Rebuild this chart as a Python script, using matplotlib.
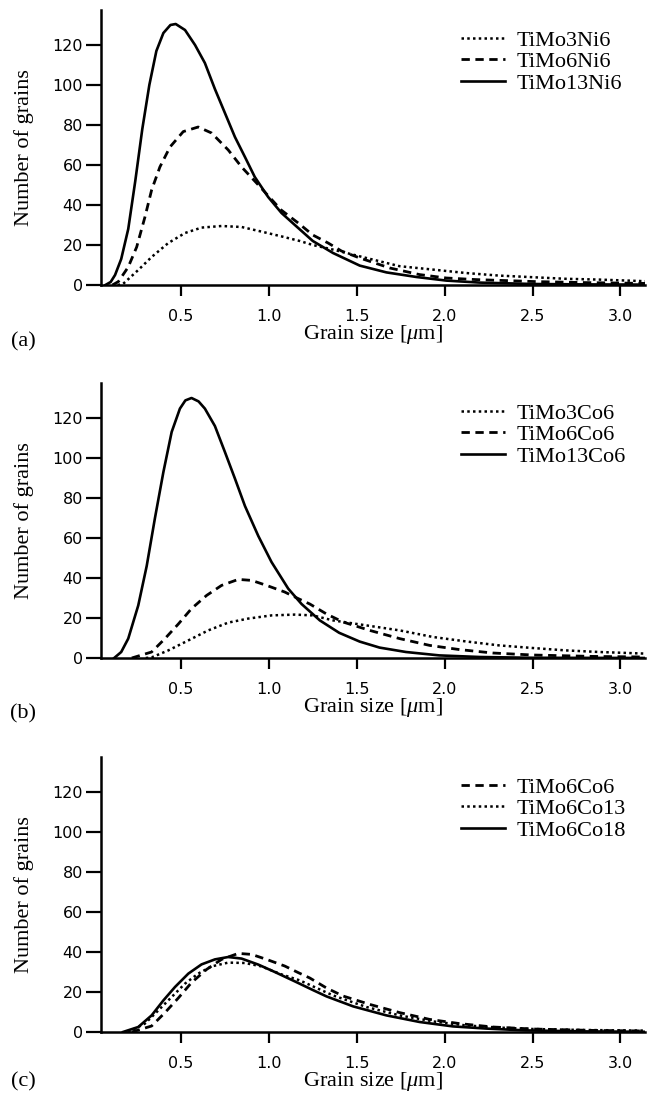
import matplotlib
matplotlib.use("Agg")
import matplotlib.pyplot as plt

# ---------------- data ----------------
# Panel (a)
a_dot_x = [0.14, 0.17, 0.257, 0.333, 0.428, 0.523, 0.617, 0.731, 0.845, 0.958, 1.072, 1.176, 1.25,
           1.365, 1.555, 1.744, 1.934, 2.12, 2.31, 2.5, 2.69, 2.88, 3.14]
a_dot_y = [0, 0.5, 7.5, 14, 21, 26, 28.7, 29.5, 29, 26.7, 24.3, 22, 20,
           17.7, 13.5, 9.4, 7.7, 6, 4.7, 3.9, 3.1, 2.7, 1.9]
a_dash_x = [0.11, 0.144, 0.2, 0.248, 0.295, 0.333, 0.38, 0.4375, 0.513, 0.598, 0.674, 0.769, 0.845,
            0.93, 1.07, 1.167, 1.25, 1.337, 1.413, 1.517, 1.593, 1.688, 1.858, 2.01, 2.18, 2.35,
            2.52, 2.8, 3.14]
a_dash_y = [0, 1.7, 9, 19, 34, 47.5, 59, 69, 76.7, 79, 76, 67.5, 59,
            51, 37.5, 31, 25, 21, 17, 13.5, 11.3, 8.5, 5.2, 3.5, 2.7, 2.2,
            1.7, 1.2, 0.8]
a_sol_x = [0.07, 0.1, 0.125, 0.16, 0.2, 0.24, 0.28, 0.32, 0.36, 0.40, 0.44, 0.47, 0.523, 0.58,
           0.636, 0.693, 0.75, 0.807, 0.864, 0.92, 0.996, 1.072, 1.148, 1.25, 1.365, 1.517, 1.669,
           1.84, 2.01, 2.2, 2.5, 2.8, 3.14]
a_sol_y = [0, 1.5, 5, 13, 28, 52, 78, 100, 117, 126, 130, 130.5, 127.5, 120,
           111, 98, 86, 74, 64, 54, 44, 36, 30, 22, 16, 9.7, 6.3,
           4, 2.2, 1.2, 0.5, 0.3, 0.2]

# Panel (b)
b_dot_x = [0.3, 0.333, 0.428, 0.542, 0.655, 0.769, 0.882, 1.015, 1.148, 1.25, 1.365, 1.555, 1.744,
           1.934, 2.12, 2.31, 2.5, 2.69, 2.88, 3.14]
b_dot_y = [0, 0.3, 3.8, 8.8, 13.8, 17.7, 19.7, 21.3, 21.7, 21.3, 18.8, 16.3, 13.8,
           10.5, 8.3, 6.3, 5, 3.8, 3, 2.2]
co6_x = [0.22, 0.333, 0.409, 0.485, 0.56, 0.646, 0.731, 0.826, 0.902, 0.987, 1.09, 1.167, 1.233,
         1.328, 1.422, 1.574, 1.744, 1.915, 2.085, 2.274, 2.5, 2.84, 3.14]
co6_y = [0, 3, 9.7, 17, 24.7, 31.3, 36.3, 39.3, 38.8, 36.3, 33, 29.7, 27,
         22, 18, 13.8, 9.7, 6.3, 4.2, 2.5, 1.5, 0.8, 0.5]
b_sol_x = [0.12, 0.16, 0.2, 0.257, 0.305, 0.352, 0.4, 0.447, 0.494, 0.525, 0.56, 0.6, 0.636, 0.693,
           0.75, 0.807, 0.864, 0.94, 1.015, 1.11, 1.186, 1.29, 1.4, 1.517, 1.63, 1.78, 1.97, 2.2,
           2.5, 3.14]
b_sol_y = [0, 3, 9.7, 26.3, 46, 70, 93, 113, 124.7, 128.8, 130, 128.3, 124.7, 116,
           103, 89.7, 76, 61, 48, 34.7, 27, 18.8, 12.6, 8.2, 5.2, 3, 1.3, 0.5,
           0.1, 0]

# Panel (c)
c_dot_x = [0.2, 0.295, 0.371, 0.447, 0.523, 0.598, 0.674, 0.769, 0.864, 0.958, 1.072, 1.176,
           1.365, 1.555, 1.744, 1.934, 2.12, 2.31, 2.5, 2.79, 3.14]
c_dot_y = [0, 4.2, 10.8, 17.5, 24.2, 29.2, 32.8, 34.7, 34.5, 32.8, 28.8, 25.8,
           18.3, 12.5, 8.3, 5.3, 3.3, 2.2, 1.5, 1, 0.7]
c_sol_x = [0.17, 0.257, 0.333, 0.4, 0.466, 0.542, 0.617, 0.693, 0.769, 0.845, 0.94, 1.034,
           1.148, 1.25, 1.328, 1.48, 1.669, 1.858, 2.047, 2.24, 2.46, 2.8, 3.14]
c_sol_y = [0, 2.5, 8.3, 15.8, 22.5, 29.2, 33.8, 36.3, 37.5, 36.7, 33.7, 30,
           25.3, 21, 17.8, 12.8, 8.3, 5, 2.8, 1.7, 0.8, 0.3, 0.1]

x_ticks = [0.5, 1.0, 1.5, 2.0, 2.5, 3.0]
x_tick_labels = ["0.5", "1.0", "1.5", "2.0", "2.5", "3.0"]
y_ticks = [0, 20, 40, 60, 80, 100, 120]
panel_letters = ["(a)", "(b)", "(c)"]
x_label = r"Grain size [$\mu$m]"
y_label = "Number of grains"

# ---------------- styling ----------------
plt.rcParams["mathtext.fontset"] = "custom"
plt.rcParams["mathtext.rm"] = "Liberation Serif"
plt.rcParams["mathtext.it"] = "Liberation Serif:italic"

SERIF = "Liberation Serif"
SERIF_SIZE = 16
TICK_SIZE = 11.5

DOT = (0, (1, 1.3))
DASH = (0, (3, 2))
styles = {
    "dot": dict(color="black", lw=1.8, linestyle=DOT),
    "dash": dict(color="black", lw=2.0, linestyle=DASH),
    "solid": dict(color="black", lw=1.9, linestyle="-"),
}

panels = [
    [("dot", a_dot_x, a_dot_y, "TiMo3Ni6"),
     ("dash", a_dash_x, a_dash_y, "TiMo6Ni6"),
     ("solid", a_sol_x, a_sol_y, "TiMo13Ni6")],
    [("dot", b_dot_x, b_dot_y, "TiMo3Co6"),
     ("dash", co6_x, co6_y, "TiMo6Co6"),
     ("solid", b_sol_x, b_sol_y, "TiMo13Co6")],
    [("dash", co6_x, co6_y, "TiMo6Co6"),
     ("dot", c_dot_x, c_dot_y, "TiMo6Co13"),
     ("solid", c_sol_x, c_sol_y, "TiMo6Co18")],
]

W, H = 647, 1100
fig = plt.figure(figsize=(W / 100, H / 100), dpi=100)

# axes boxes in pixels: (left, top, right, bottom)
boxes = [(101, 10, 645, 285), (101, 383, 645, 658), (101, 757, 645, 1032)]
letter_y = [342, 714, 1082]

for i, (box, series) in enumerate(zip(boxes, panels)):
    l, t, r, b = box
    ax = fig.add_axes([l / W, 1 - b / H, (r - l) / W, (b - t) / H])
    for key, xs, ys, lab in series:
        ax.plot(xs, ys, label=lab, **styles[key])
    ax.set_xlim(0.045, 3.14)
    ax.set_ylim(0, 137.5)
    ax.set_xticks(x_ticks)
    ax.set_xticklabels(x_tick_labels)
    ax.set_yticks(y_ticks)
    for s in ("top", "right"):
        ax.spines[s].set_visible(False)
    for s in ("left", "bottom"):
        ax.spines[s].set_linewidth(1.8)
    ax.tick_params(axis="x", direction="out", length=8, width=1.6, pad=9,
                   labelsize=TICK_SIZE)
    ax.tick_params(axis="y", direction="out", length=11, width=1.6, pad=2,
                   labelsize=TICK_SIZE)
    for lbl in ax.get_xticklabels() + ax.get_yticklabels():
        lbl.set_family("DejaVu Sans")
    ax.set_xlabel(x_label, family=SERIF, fontsize=SERIF_SIZE)
    ax.xaxis.set_label_coords(0.5, -38 / (b - t))
    ax.set_ylabel(y_label, family=SERIF, fontsize=SERIF_SIZE, va="center")
    ax.yaxis.set_label_coords((24 - l) / (r - l), 0.5)
    ax.patch.set_visible(False)
    ax.legend(loc="upper left", bbox_to_anchor=((461 - l) / (r - l), 1 - 20 / (b - t)),
              frameon=False, prop={"family": SERIF, "size": SERIF_SIZE},
              handlelength=2.0, handletextpad=0.5, labelspacing=0.05,
              borderpad=0, borderaxespad=0)
    fig.text(23 / W, 1 - letter_y[i] / H, panel_letters[i], family=SERIF,
             fontsize=SERIF_SIZE, ha="center", va="center")

fig.savefig("out.png", dpi=100)
